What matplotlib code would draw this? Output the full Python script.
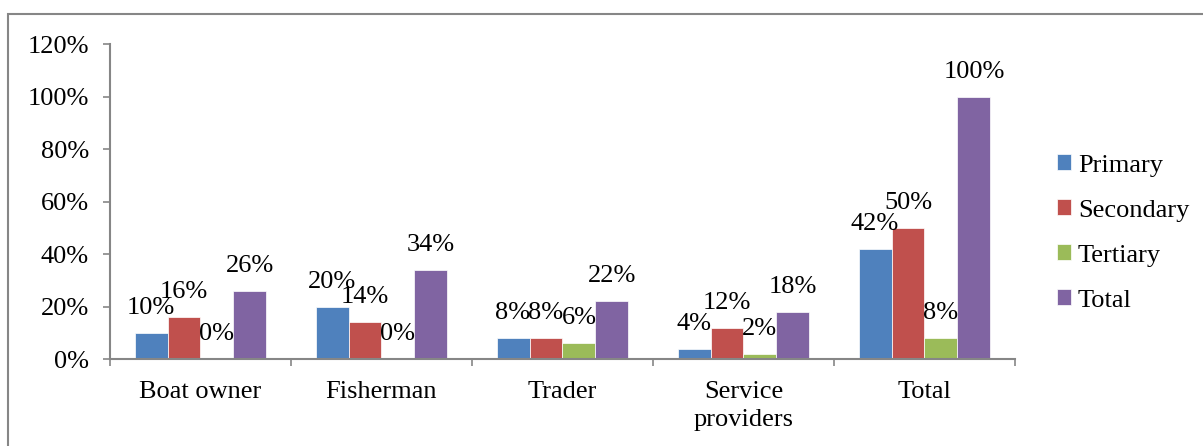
import numpy as np
import matplotlib.pyplot as plt
from matplotlib.patches import Rectangle
from matplotlib.ticker import FuncFormatter, FixedLocator

plt.rcParams['font.family'] = ['Liberation Serif', 'DejaVu Serif']

categories = ['Boat owner', 'Fisherman', 'Trader', 'Service\nproviders', 'Total']
series = ['Primary', 'Secondary', 'Tertiary', 'Total']
primary = [10, 20, 8, 4, 42]
secondary = [16, 14, 8, 12, 50]
tertiary = [0, 0, 6, 2, 8]
total = [26, 34, 22, 18, 100]
colors = ['#4F81BD', '#C0504D', '#9BBB59', '#8064A2']

values = [primary, secondary, tertiary, total]
fs = 19

fig = plt.figure(figsize=(12.03, 4.46), dpi=100)
ax = fig.add_axes([0.0914, 0.195, 0.7523, 0.706])

x = np.arange(len(categories))
w = 0.182
for i, (name, vals, c) in enumerate(zip(series, values, colors)):
    v = np.array(vals) / 100
    pos = x + (i - 1.5) * w
    ax.bar(pos, v, width=w, color=c, label=name, edgecolor='white', linewidth=0.5)
    for px, pv, raw in zip(pos, v, vals):
        ax.annotate(f'{raw}%', (px, pv), xytext=(0, 18), textcoords='offset points',
                    ha='center', va='center', fontsize=fs)

ax.set_xlim(-0.5, len(categories) - 0.5)
ax.set_ylim(0, 1.2)
ax.set_yticks(np.arange(0, 1.21, 0.2))
ax.yaxis.set_major_formatter(FuncFormatter(lambda y, _: f'{y * 100:.0f}%'))
ax.set_xticks(x)
ax.set_xticklabels(categories, fontsize=fs, linespacing=1.35)
ax.xaxis.set_minor_locator(FixedLocator(np.arange(-0.5, len(categories), 1)))
ax.tick_params(axis='x', which='major', length=0, pad=16)
ax.tick_params(axis='x', which='minor', length=5, width=1.2, color='#868686', direction='out')
ax.tick_params(axis='y', length=5, width=1.2, color='#868686', pad=10, labelsize=fs)

for s in ['top', 'right']:
    ax.spines[s].set_visible(False)
for s in ['left', 'bottom']:
    ax.spines[s].set_color('#868686')
    ax.spines[s].set_linewidth(1.5)

ax.legend(loc='center left', bbox_to_anchor=(1.02, 0.4), frameon=False, fontsize=fs,
          handlelength=0.55, handleheight=0.55, handletextpad=0.25, labelspacing=0.86)

fig.patches.append(Rectangle((8 / 1203, -0.05), 1.1, 1.05 - 14 / 446, transform=fig.transFigure,
                             fill=False, edgecolor='#868686', linewidth=1.5))

fig.savefig('out.png', dpi=100)
